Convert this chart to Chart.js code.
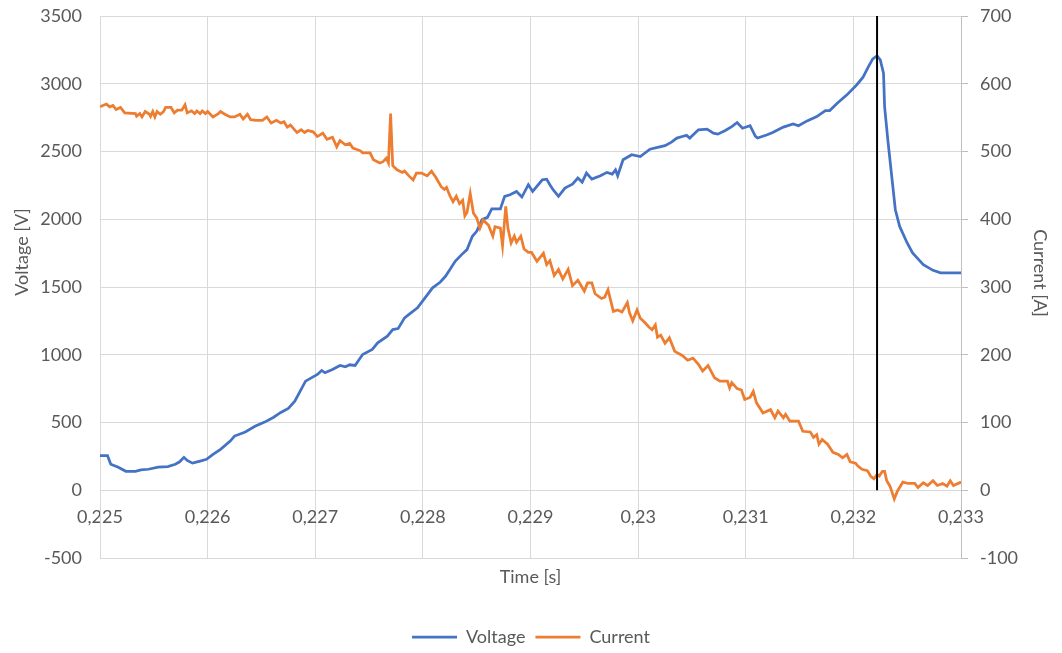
<!DOCTYPE html>
<html>
<head>
<meta charset="utf-8">
<title>Voltage and current</title>
<script src="https://cdn.jsdelivr.net/npm/chart.js@4.4.0/dist/chart.umd.min.js"></script>
<style>
  html, body { margin:0; padding:0; background:#fff; }
  canvas { display:block; }
</style>
</head>
<body>
<canvas id="chart" width="1062" height="653"></canvas>
<script>
// Measured trace: time [s] with voltage [V] and current [A]
const timeV = [
  0.22500,0.22507,0.22510,0.22517,0.22524,0.22533,0.22538,0.22545,0.22554,0.22563,
  0.22570,0.22574,0.22578,0.22581,0.22586,0.22593,0.22599,0.22605,0.22612,0.22621,
  0.22625,0.22635,0.22644,0.22653,0.22661,0.22668,0.22675,0.22681,0.22686,0.22691,
  0.22702,0.22706,0.22709,0.22716,0.22723,0.22728,0.22732,0.22737,0.22744,0.22753,
  0.22758,0.22767,0.22772,0.22777,0.22783,0.22788,0.22795,0.22802,0.22809,0.22816,
  0.22821,0.22825,0.22830,0.22836,0.22841,0.22846,0.22850,0.22855,0.22860,0.22864,
  0.22872,0.22876,0.22881,0.22887,0.22892,0.22898,0.22902,0.22911,0.22915,0.22918,
  0.22921,0.22926,0.22932,0.22939,0.22944,0.22948,0.22952,0.22957,0.22965,0.22971,
  0.22976,0.22979,0.22981,0.22986,0.22994,0.23002,0.23011,0.23018,0.23025,0.23031,
  0.23036,0.23041,0.23045,0.23048,0.23056,0.23064,0.23070,0.23074,0.23081,0.23087,
  0.23092,0.23097,0.23104,0.23109,0.23111,0.23120,0.23125,0.23135,0.23144,0.23149,
  0.23157,0.23166,0.23174,0.23178,0.23185,0.23194,0.23203,0.23209,0.23214,0.23218,
  0.23222,0.23225,0.23228,0.23229,0.23232,0.23236,0.23239,0.23243,0.23250,0.23255,
  0.23265,0.23274,0.23281,0.23300
];
const voltage = [
  255,255,192,170,140,140,150,155,170,175,
  192,210,243,220,200,215,228,265,302,363,
  400,430,472,503,537,574,604,658,732,805,
  855,884,867,891,921,911,926,921,1002,1039,
  1088,1137,1186,1193,1272,1304,1346,1420,1494,1535,
  1579,1628,1690,1739,1776,1874,1911,1997,2014,2076,
  2076,2169,2181,2205,2164,2255,2205,2291,2296,2255,
  2218,2169,2230,2259,2304,2274,2341,2296,2321,2346,
  2333,2365,2321,2439,2476,2463,2517,2530,2543,2569,
  2599,2611,2619,2599,2660,2665,2635,2628,2655,2684,
  2714,2672,2690,2611,2599,2623,2640,2680,2704,2690,
  2726,2758,2802,2802,2856,2918,2991,3048,3126,3183,
  3205,3176,3078,2832,2586,2291,2070,1947,1825,1751,
  1665,1623,1604,1604
];

const timeI = [
  0.22500,0.22506,0.22509,0.22512,0.22515,0.22519,0.22523,0.22533,0.22534,0.22537,
  0.22539,0.22542,0.22546,0.22547,0.22549,0.22551,0.22553,0.22556,0.22559,0.22561,
  0.22566,0.22569,0.22572,0.22576,0.22579,0.22581,0.22585,0.22588,0.22590,0.22593,
  0.22595,0.22598,0.22600,0.22605,0.22610,0.22612,0.22616,0.22621,0.22625,0.22630,
  0.22633,0.22637,0.22640,0.22645,0.22651,0.22655,0.22659,0.22664,0.22668,0.22671,
  0.22674,0.22677,0.22683,0.22687,0.22690,0.22693,0.22698,0.22702,0.22707,0.22711,
  0.22716,0.22720,0.22723,0.22728,0.22732,0.22735,0.22742,0.22744,0.22751,0.22754,
  0.22760,0.22763,0.22766,0.22768,0.22770,0.22772,0.22776,0.22781,0.22783,0.22787,
  0.22791,0.22794,0.22799,0.22804,0.22808,0.22812,0.22817,0.22820,0.22822,0.22825,
  0.22828,0.22831,0.22834,0.22837,0.22839,0.22841,0.22844,0.22847,0.22850,0.22853,
  0.22856,0.22861,0.22865,0.22867,0.22872,0.22874,0.22877,0.22879,0.22882,0.22885,
  0.22887,0.22891,0.22894,0.22898,0.22901,0.22906,0.22912,0.22915,0.22918,0.22922,
  0.22926,0.22930,0.22935,0.22939,0.22944,0.22950,0.22953,0.22957,0.22960,0.22966,
  0.22969,0.22972,0.22977,0.22981,0.22985,0.22990,0.22992,0.22995,0.22999,0.23002,
  0.23006,0.23010,0.23013,0.23016,0.23018,0.23021,0.23025,0.23029,0.23034,0.23041,
  0.23046,0.23051,0.23056,0.23060,0.23065,0.23071,0.23076,0.23083,0.23085,0.23087,
  0.23092,0.23096,0.23099,0.23104,0.23107,0.23110,0.23116,0.23123,0.23127,0.23130,
  0.23135,0.23137,0.23141,0.23149,0.23153,0.23160,0.23163,0.23166,0.23168,0.23171,
  0.23176,0.23181,0.23186,0.23190,0.23194,0.23197,0.23202,0.23204,0.23208,0.23213,
  0.23216,0.23219,0.23222,0.23224,0.23227,0.23229,0.23231,0.23234,0.23238,0.23241,
  0.23246,0.23251,0.23257,0.23260,0.23265,0.23269,0.23274,0.23278,0.23283,0.23287,
  0.23290,0.23293,0.23300
];
const current = [
  566,570,566,568,562,565,557,556,552,556,
  551,559,555,552,559,551,559,555,559,565,
  565,557,561,561,569,557,560,556,560,556,
  560,556,559,551,556,559,555,551,551,555,
  548,555,547,546,546,551,542,546,542,544,
  536,539,528,532,528,531,529,522,527,518,
  521,507,516,510,512,505,501,498,498,488,
  483,485,490,483,556,479,473,469,471,464,
  458,468,468,464,471,462,448,444,447,435,
  426,434,423,428,405,410,438,409,402,387,
  399,391,375,389,387,361,419,387,365,375,
  366,375,356,351,351,338,350,333,339,317,
  326,312,326,302,310,294,306,306,290,283,
  285,296,264,266,263,277,262,250,266,254,
  248,241,237,244,226,229,217,225,205,199,
  192,195,186,176,184,166,161,161,151,159,
  150,148,134,137,146,129,114,119,107,117,
  107,112,102,102,87,86,78,82,68,75,
  68,56,53,48,53,42,40,36,31,29,
  21,17,23,21,28,28,14,6,-13,-1,
  12,10,10,4,11,7,14,7,10,6,
  14,7,12
];

// vertical marker at the voltage peak
const markerT = [0.23222, 0.23222];
const markerV = [0, 3500];

const TEXT = '#595959';
const GRID = '#D9D9D9';
const FONT = { family: 'Lato', size: 18 };

const toPoints = (xs, ys) => xs.map((x, i) => ({ x, y: ys[i] }));
const fmtTime = v => String(+v.toFixed(3)).replace('.', ',');

// fixed axis widths; label padding should not push the plot area down
const fitY = width => s => { s.width = width; s.paddingTop = 0; s.paddingBottom = 0; };

// rotated side titles, sitting a little above the plot middle
const sideTitles = {
  id: 'sideTitles',
  afterDraw(chart) {
    const { ctx, chartArea } = chart;
    const items = [
      { text: 'Voltage [V]', x: 22, y: chartArea.top + 236, angle: -Math.PI / 2 },
      { text: 'Current [A]', x: 1040, y: chartArea.top + 257, angle: Math.PI / 2 }
    ];
    ctx.save();
    ctx.fillStyle = TEXT;
    ctx.font = `${FONT.size}px ${FONT.family}`;
    ctx.textAlign = 'center';
    ctx.textBaseline = 'middle';
    for (const t of items) {
      ctx.save();
      ctx.translate(t.x, t.y);
      ctx.rotate(t.angle);
      ctx.fillText(t.text, 0, 0);
      ctx.restore();
    }
    ctx.restore();
  }
};

new Chart(document.getElementById('chart'), {
  type: 'line',
  data: {
    datasets: [
      { label: 'Voltage', data: toPoints(timeV, voltage), yAxisID: 'yV',
        borderColor: '#4472C4', backgroundColor: '#4472C4', borderWidth: 2.75,
        pointRadius: 0, tension: 0, order: 2 },
      { label: 'Current', data: toPoints(timeI, current), yAxisID: 'yI',
        borderColor: '#ED7D31', backgroundColor: '#ED7D31', borderWidth: 2.75,
        pointRadius: 0, tension: 0, order: 1 },
      { label: 'marker', data: toPoints(markerT, markerV), yAxisID: 'yV',
        borderColor: '#000000', backgroundColor: '#000000', borderWidth: 2,
        pointRadius: 0, order: 0 }
    ]
  },
  plugins: [sideTitles],
  options: {
    responsive: false,
    animation: false,
    layout: { padding: { top: 16, left: 0, right: 0, bottom: -3 } },
    plugins: {
      tooltip: { enabled: false },
      legend: {
        position: 'bottom',
        labels: {
          filter: item => item.datasetIndex < 2,
          sort: (a, b) => a.datasetIndex - b.datasetIndex,
          usePointStyle: true,
          pointStyle: 'line',
          pointStyleWidth: 45,
          color: TEXT,
          font: FONT,
          padding: 10
        }
      }
    },
    scales: {
      x: {
        type: 'linear',
        position: { yV: 0 },
        min: 0.225,
        max: 0.233,
        ticks: { stepSize: 0.001, callback: fmtTime, color: TEXT, font: FONT,
                 padding: 16, maxRotation: 0, autoSkip: false },
        grid: { color: GRID, drawTicks: false },
        border: { color: GRID }
      },
      xTitle: {
        type: 'linear',
        position: 'bottom',
        grid: { display: false },
        border: { display: false },
        ticks: { display: false },
        title: { display: true, text: 'Time [s]', color: TEXT, font: FONT,
                 padding: { top: 0, bottom: 30 } },
        afterFit: s => { s.height = 60; }
      },
      yV: {
        position: 'left',
        min: -500,
        max: 3500,
        ticks: { stepSize: 500, color: TEXT, font: FONT, padding: 18,
                 callback: v => String(v) },
        grid: { color: GRID, drawTicks: false },
        border: { color: GRID },
        afterFit: fitY(100)
      },
      yI: {
        position: 'right',
        min: -100,
        max: 700,
        ticks: { stepSize: 100, color: TEXT, font: FONT, padding: 12,
                 callback: v => String(v) },
        grid: { drawOnChartArea: false, color: '#BFBFBF', tickLength: 7 },
        border: { color: '#BFBFBF' },
        afterFit: fitY(101)
      }
    }
  }
});
</script>
</body>
</html>
